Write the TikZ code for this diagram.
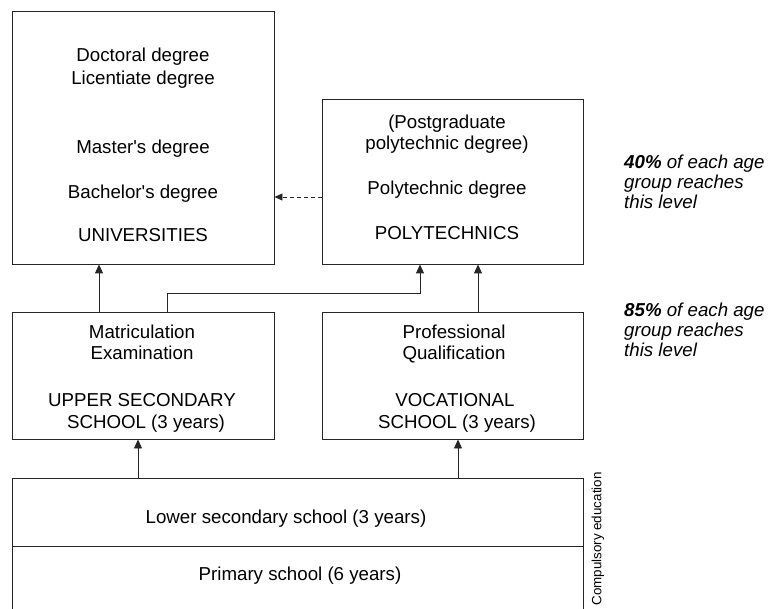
\documentclass[tikz,border=0pt]{standalone}
\usepackage{fontspec}
\setmainfont{Liberation Sans}
\usetikzlibrary{arrows.meta}
\begin{document}
\begin{tikzpicture}[x=1pt,y=-1pt,
  box/.style={draw=black!85,line width=0.9pt,inner sep=0pt,rectangle},
  txt/.style={anchor=base,inner sep=0pt,font=\fontsize{18.7}{21}\selectfont},
  side/.style={anchor=base west,inner sep=0pt,font=\fontsize{18.7}{20}\selectfont\itshape},
  arr/.style={draw=black!85,line width=0.9pt,-{Triangle[length=9pt,width=8pt]}},
  darr/.style={draw=black!85,line width=0.9pt,dash pattern=on 4pt off 3pt,-{Triangle[length=8pt,width=7pt]}}]
\useasboundingbox (0,0) rectangle (768,609);
\clip (0,0) rectangle (768,609);
% boxes
\node[box,minimum width=262pt,minimum height=253pt] (univ) at (143,137.5) {};
\node[box,minimum width=261pt,minimum height=165pt] (poly) at (452.5,181.5) {};
\node[box,minimum width=262pt,minimum height=127pt] (upsec) at (143,375.5) {};
\node[box,minimum width=261pt,minimum height=127pt] (voc) at (452.5,375.5) {};
\node[box,minimum width=571pt,minimum height=162pt] (lower) at (297.5,559) {};
\coordinate (div) at (0,546);
\draw[draw=black!85,line width=0.9pt] (lower.west |- div) -- (lower.east |- div);
% texts
\node[txt] (t1) at (143,61.5) {Doctoral degree};
\node[txt] (t2) at (143,84.5) {Licentiate degree};
\node[txt] (t3) at (143,153.5) {Master\textquotesingle s degree};
\node[txt] (t4) at (143,198.5) {Bachelor\textquotesingle s degree};
\node[txt] (t5) at (143,241.5) {UNIVERSITIES};
\node[txt] (p1) at (447,128.5) {(Postgraduate};
\node[txt] (p2) at (447,149.5) {polytechnic degree)};
\node[txt] (p3) at (447,194.5) {Polytechnic degree};
\node[txt] (p4) at (447,239.5) {POLYTECHNICS};
\node[txt] (u1) at (142,338.5) {Matriculation};
\node[txt] (u2) at (142,359.5) {Examination};
\node[txt] (u3) at (142,406.5) {UPPER SECONDARY};
\node[txt] (u4) at (146,428.5) {SCHOOL (3 years)};
\node[txt] (v1) at (454,338.5) {Professional};
\node[txt] (v2) at (454,359.5) {Qualification};
\node[txt] (v3) at (455,406.5) {VOCATIONAL};
\node[txt] (v4) at (457,428.5) {SCHOOL (3 years)};
\node[txt] (l1) at (286,523.5) {Lower secondary school (3 years)};
\node[txt] (l2) at (300,580) {Primary school (6 years)};
\node[side] (s1) at (624,168.5) {\textbf{40\%} of each age};
\node[side] (s2) at (624,188.5) {group reaches};
\node[side] (s3) at (624,208.5) {this level};
\node[side] (r1) at (624,316.5) {\textbf{85\%} of each age};
\node[side] (r2) at (624,336.5) {group reaches};
\node[side] (r3) at (624,356.5) {this level};
\node[rotate=90,inner sep=0pt,font=\fontsize{13.4}{15}\selectfont] (comp) at (598,539) {Compulsory education};
% connectors
\coordinate (xa) at (99,0);
\coordinate (xb) at (167,0);
\coordinate (xc) at (420,0);
\coordinate (xd) at (478,0);
\coordinate (xe) at (138,0);
\coordinate (xf) at (458,0);
\coordinate (yh) at (0,293);
\coordinate (yd) at (0,197);
\draw[arr] (upsec.north -| xa) -- (univ.south -| xa);
\draw[arr] (upsec.north -| xb) -- (xb |- yh) -- (xc |- yh) -- (poly.south -| xc);
\draw[arr] (voc.north -| xd) -- (poly.south -| xd);
\draw[arr] (lower.north -| xe) -- (upsec.south -| xe);
\draw[arr] (lower.north -| xf) -- (voc.south -| xf);
\draw[darr] (poly.west |- yd) -- (univ.east |- yd);
\end{tikzpicture}
\end{document}
